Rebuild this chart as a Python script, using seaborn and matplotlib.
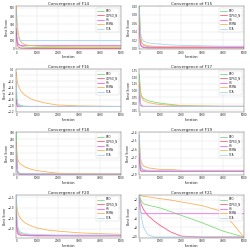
import matplotlib
matplotlib.use("Agg")
import matplotlib.pyplot as plt
import seaborn as sns
import pandas as pd

sns.set_style("whitegrid")
plt.rcParams['font.family'] = ['DejaVu Sans']

algorithms = ["EPO", "CLPSO_N", "HS", "BSMA", "SCA"]
colors = ["#7ddc7d", "#ff5c7c", "#ee66ee", "#f7b45c", "#a8d4f2"]
iters = [0, 50, 100, 200, 400, 700, 1000, 1500, 2000, 3000, 4000, 5000]

titles = ["Convergence of F14", "Convergence of F15", "Convergence of F16", "Convergence of F17",
          "Convergence of F18", "Convergence of F19", "Convergence of F20", "Convergence of F21"]

f14 = {
    "EPO":     [200, 100, 60, 35, 22, 18, 15, 14, 13, 12, 12, 12],
    "CLPSO_N": [250, 50, 20, 10, 7, 6, 5, 5, 5, 5, 5, 5],
    "HS":      [150, 70, 50, 42, 40, 40, 40, 40, 40, 40, 40, 40],
    "BSMA":    [520, 300, 180, 90, 50, 38, 32, 28, 26, 25, 25, 25],
    "SCA":     [470, 200, 130, 102, 100, 100, 100, 100, 100, 100, 100, 100],
}
f15 = {
    "EPO":     [0.1, 0.03, 0.015, 0.008, 0.005, 0.004, 0.004, 0.003, 0.003, 0.003, 0.003, 0.003],
    "CLPSO_N": [0.07, 0.01, 0.005, 0.003, 0.002, 0.002, 0.002, 0.002, 0.002, 0.002, 0.002, 0.002],
    "HS":      [0.05, 0.012, 0.006, 0.004, 0.003, 0.003, 0.003, 0.003, 0.003, 0.003, 0.003, 0.003],
    "BSMA":    [0.08, 0.025, 0.015, 0.01, 0.007, 0.006, 0.005, 0.005, 0.005, 0.005, 0.005, 0.005],
    "SCA":     [0.09, 0.04, 0.025, 0.018, 0.014, 0.012, 0.011, 0.009, 0.008, 0.007, 0.006, 0.006],
}
f16 = {
    "EPO":     [-0.6, -0.9, -0.95, -1.0, -1.02, -1.03, -1.03, -1.03, -1.03, -1.03, -1.03, -1.03],
    "CLPSO_N": [-0.8, -1.0, -1.03, -1.03, -1.03, -1.03, -1.03, -1.03, -1.03, -1.03, -1.03, -1.03],
    "HS":      [-0.9, -1.02, -1.03, -1.03, -1.03, -1.03, -1.03, -1.03, -1.03, -1.03, -1.03, -1.03],
    "BSMA":    [0.1, -0.2, -0.35, -0.5, -0.65, -0.78, -0.85, -0.93, -0.98, -1.01, -1.02, -1.03],
    "SCA":     [-0.2, -0.95, -1.0, -1.02, -1.03, -1.03, -1.03, -1.03, -1.03, -1.03, -1.03, -1.03],
}
f17 = {
    "EPO":     [1.6, 1.0, 0.8, 0.7, 0.62, 0.56, 0.52, 0.47, 0.43, 0.41, 0.4, 0.4],
    "CLPSO_N": [1.2, 0.5, 0.42, 0.4, 0.4, 0.4, 0.4, 0.4, 0.4, 0.4, 0.4, 0.4],
    "HS":      [0.8, 0.45, 0.41, 0.4, 0.4, 0.4, 0.4, 0.4, 0.4, 0.4, 0.4, 0.4],
    "BSMA":    [1.3, 0.9, 0.75, 0.62, 0.55, 0.5, 0.47, 0.44, 0.42, 0.41, 0.4, 0.4],
    "SCA":     [1.1, 0.42, 0.4, 0.4, 0.4, 0.4, 0.4, 0.4, 0.4, 0.4, 0.4, 0.4],
}
f18 = {
    "EPO":     [300, 40, 15, 8, 5, 4, 3, 3, 3, 3, 3, 3],
    "CLPSO_N": [150, 15, 5, 3, 3, 3, 3, 3, 3, 3, 3, 3],
    "HS":      [220, 20, 8, 4, 3, 3, 3, 3, 3, 3, 3, 3],
    "BSMA":    [210, 120, 95, 75, 55, 38, 28, 18, 10, 5, 3, 3],
    "SCA":     [180, 30, 10, 5, 4, 3, 3, 3, 3, 3, 3, 3],
}
f19 = {
    "EPO":     [-3.6, -3.8, -3.83, -3.85, -3.86, -3.86, -3.86, -3.86, -3.86, -3.86, -3.86, -3.86],
    "CLPSO_N": [-3.7, -3.84, -3.86, -3.86, -3.86, -3.86, -3.86, -3.86, -3.86, -3.86, -3.86, -3.86],
    "HS":      [-3.65, -3.85, -3.86, -3.86, -3.86, -3.86, -3.86, -3.86, -3.86, -3.86, -3.86, -3.86],
    "BSMA":    [-3.5, -3.7, -3.76, -3.8, -3.82, -3.83, -3.84, -3.84, -3.85, -3.85, -3.85, -3.85],
    "SCA":     [-3.43, -3.75, -3.82, -3.84, -3.85, -3.85, -3.85, -3.85, -3.85, -3.85, -3.85, -3.85],
}
f20 = {
    "EPO":     [-2.0, -2.9, -3.1, -3.2, -3.25, -3.28, -3.3, -3.3, -3.31, -3.32, -3.32, -3.32],
    "CLPSO_N": [-2.2, -3.1, -3.2, -3.28, -3.3, -3.31, -3.32, -3.32, -3.32, -3.32, -3.32, -3.32],
    "HS":      [-2.5, -3.2, -3.25, -3.3, -3.31, -3.32, -3.32, -3.32, -3.32, -3.32, -3.32, -3.32],
    "BSMA":    [-1.6, -2.1, -2.3, -2.5, -2.7, -2.85, -2.95, -3.05, -3.1, -3.18, -3.22, -3.25],
    "SCA":     [-1.4, -2.8, -3.0, -3.15, -3.22, -3.25, -3.26, -3.27, -3.28, -3.28, -3.28, -3.28],
}
f21 = {
    "EPO":     [-1.0, -1.8, -2.4, -2.9, -3.2, -3.5, -3.8, -4.6, -5.4, -7.0, -8.8, -10.1],
    "CLPSO_N": [-1.5, -2.5, -3.2, -4.2, -5.4, -6.6, -7.6, -9.0, -9.9, -10.1, -10.1, -10.1],
    "HS":      [-2.0, -4.5, -5.0, -5.05, -5.05, -5.05, -5.05, -5.05, -5.05, -5.05, -5.05, -5.05],
    "BSMA":    [-1.0, -1.1, -1.2, -1.3, -1.4, -1.6, -1.8, -2.1, -2.5, -3.3, -4.6, -10.1],
    "SCA":     [-1.0, -4.0, -6.0, -8.0, -9.6, -10.1, -10.1, -10.1, -10.1, -10.1, -10.1, -10.1],
}
series = [f14, f15, f16, f17, f18, f19, f20, f21]
ylims = [(0, 520), (0, 0.1), (-1.2, 0.2), (0.2, 1.8), (0, 300), (-3.9, -3.4), (-3.4, -1.4), (-10.2, -1)]

fig, axes = plt.subplots(4, 2, figsize=(2.5, 2.5), dpi=100)
fig.subplots_adjust(left=0.065, right=0.975, top=0.975, bottom=0.05, wspace=0.18, hspace=0.48)

for ax, title, data, yl in zip(axes.flat, titles, series, ylims):
    rows = []
    for alg in algorithms:
        for it, v in zip(iters, data[alg]):
            rows.append({"Iteration": it, "Best Score": v, "Algorithm": alg})
    df = pd.DataFrame(rows)
    sns.lineplot(data=df, x="Iteration", y="Best Score", hue="Algorithm",
                 palette=colors, hue_order=algorithms, ax=ax, linewidth=0.6)
    ax.set_xlim(0, 5000)
    ax.set_ylim(*yl)
    ax.set_title(title, fontsize=3, pad=1)
    ax.set_xlabel("Iteration", fontsize=2.3, labelpad=0.5)
    ax.set_ylabel("Best Score", fontsize=2.3, labelpad=0.5)
    ax.set_xticks([0, 1000, 2000, 3000, 4000, 5000])
    ax.tick_params(labelsize=2, length=0.8, width=0.3, pad=0.5)
    ax.grid(True, color="#e0e0e0", linewidth=0.3)
    for s in ax.spines.values():
        s.set_linewidth(0.3)
        s.set_color("#555555")
    leg = ax.legend(loc="upper right", fontsize=2, frameon=True, handlelength=2.5,
                    borderpad=0.4, labelspacing=0.2, title=None)
    leg.get_frame().set_linewidth(0.3)

fig.savefig("out.png", dpi=100)
